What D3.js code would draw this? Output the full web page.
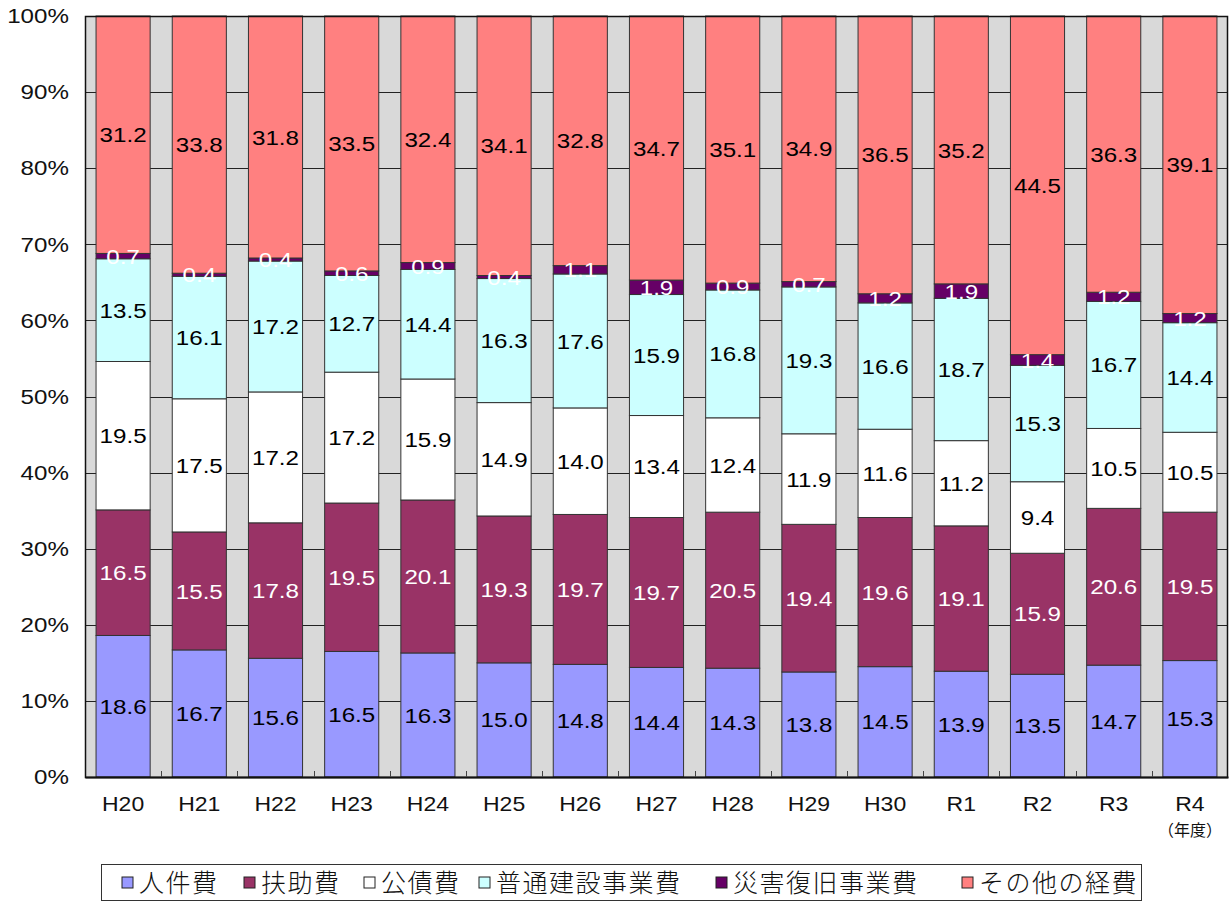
<!DOCTYPE html>
<html><head><meta charset="utf-8">
<script src="https://cdn.jsdelivr.net/npm/d3@7"></script>
<style>
body{margin:0;background:#fff;}
svg{display:block;}
text{font-family:"Liberation Sans","Noto Sans CJK JP",sans-serif;}
</style></head><body>
<svg id="chart" width="1229" height="903"></svg>
<script>
const years = ["H20","H21","H22","H23","H24","H25","H26","H27","H28","H29","H30","R1","R2","R3","R4"];
const seriesNames = ["人件費","扶助費","公債費","普通建設事業費","災害復旧事業費","その他の経費"];
const jinkenhi   = [18.6,16.7,15.6,16.5,16.3,15.0,14.8,14.4,14.3,13.8,14.5,13.9,13.5,14.7,15.3];
const fujohi     = [16.5,15.5,17.8,19.5,20.1,19.3,19.7,19.7,20.5,19.4,19.6,19.1,15.9,20.6,19.5];
const kousaihi   = [19.5,17.5,17.2,17.2,15.9,14.9,14.0,13.4,12.4,11.9,11.6,11.2,9.4,10.5,10.5];
const futsuu     = [13.5,16.1,17.2,12.7,14.4,16.3,17.6,15.9,16.8,19.3,16.6,18.7,15.3,16.7,14.4];
const saigai     = [0.7,0.4,0.4,0.6,0.9,0.4,1.1,1.9,0.9,0.7,1.2,1.9,1.4,1.2,1.2];
const sonota     = [31.2,33.8,31.8,33.5,32.4,34.1,32.8,34.7,35.1,34.9,36.5,35.2,44.5,36.3,39.1];
const yTicks = [0,10,20,30,40,50,60,70,80,90,100];

const colors = ["#9999FF","#993366","#FFFFFF","#CCFFFF","#660066","#FF8080"];
const labelColors = ["#000","#fff","#000","#000","#fff","#000"];
const allSeries = [jinkenhi,fujohi,kousaihi,futsuu,saigai,sonota];

const table = years.map((y,i)=>{const o={year:y}; seriesNames.forEach((s,k)=>o[s]=allSeries[k][i]); return o;});
const stack = d3.stack().keys(seriesNames)(table);

const svg = d3.select("#chart");
const L=85,R=1228,T=16,B=777;
const SX = 1.15;
const x = d3.scaleBand().domain(years).range([L,R]).paddingInner(0.29).paddingOuter(0.145);
const y = d3.scaleLinear().domain([0,100]).range([B,T]);

svg.append("rect").attr("x",L).attr("y",T).attr("width",R-L).attr("height",B-T).attr("fill","#D9D9D9");

// gridlines
svg.append("g").selectAll("line").data(yTicks.filter(t=>t>0&&t<100)).join("line")
  .attr("x1",L).attr("x2",R).attr("y1",d=>Math.round(y(d))+0.5).attr("y2",d=>Math.round(y(d))+0.5)
  .attr("stroke","#222").attr("stroke-width",1);

// bars
const g = svg.append("g");
stack.forEach((layer,k)=>{
  g.append("g").selectAll("rect").data(layer).join("rect")
    .attr("x",d=>x(d.data.year)).attr("width",x.bandwidth())
    .attr("y",d=>y(d[1])).attr("height",d=>y(d[0])-y(d[1]))
    .attr("fill",colors[k]).attr("stroke","#333").attr("stroke-width",1);
});

// labels
stack.forEach((layer,k)=>{
  g.append("g").selectAll("text").data(layer).join("text")
    .attr("transform",d=>`translate(${x(d.data.year)+x.bandwidth()/2},${y((d[0]+d[1])/2)}) scale(${SX},1)`)
    .attr("dy","0.36em")
    .attr("text-anchor","middle")
    .attr("font-size",21)
    .attr("fill",labelColors[k])
    .text(d=>(d[1]-d[0]).toFixed(1));
});

// frame
svg.append("rect").attr("x",L+0.5).attr("y",T+0.5).attr("width",R-L-1).attr("height",B-T).attr("fill","none").attr("stroke","#111").attr("stroke-width",1.5);

// y axis
const yAxis = d3.axisLeft(y).tickValues(yTicks).tickFormat(d=>d+"%").tickSize(0).tickPadding(14);
const ya = svg.append("g").attr("transform",`translate(${L},0)`).call(yAxis);
ya.select(".domain").remove();
ya.selectAll("text").attr("font-size",21).attr("fill","#111").attr("transform",`scale(${SX},1)`);

// x axis
const xa = svg.append("g").attr("transform",`translate(0,${B})`).call(d3.axisBottom(x).tickSize(0).tickPadding(20));
xa.select(".domain").attr("stroke","#111").attr("stroke-width",2);
xa.selectAll("text").attr("font-size",20).attr("fill","#111").attr("transform",`scale(${SX},1)`);
// category separator ticks
const step = x.step();
svg.append("g").selectAll("line").data(years.slice(1)).join("line")
  .attr("x1",d=>Math.round(x(d)-(step-x.bandwidth())/2)+0.5).attr("x2",d=>Math.round(x(d)-(step-x.bandwidth())/2)+0.5)
  .attr("y1",B).attr("y2",B-6).attr("stroke","#444");
svg.append("text").attr("x",x("R4")+x.bandwidth()/2).attr("y",836).attr("text-anchor","middle")
  .attr("font-size",16).attr("fill","#111").attr("font-family","'Noto Sans CJK JP',sans-serif").text("（年度）");

// legend
const lg = svg.append("g");
lg.append("rect").attr("x",101.5).attr("y",864.5).attr("width",1040).attr("height",36).attr("fill","#fff").attr("stroke","#333");
const legendX = [122,244,364,479,716,962];
seriesNames.forEach((s,k)=>{
  const gx = legendX[k];
  lg.append("rect").attr("x",gx).attr("y",877).attr("width",11).attr("height",11).attr("fill",colors[k]).attr("stroke","#222");
  lg.append("text").attr("x",gx+17).attr("y",883).attr("dy","0.36em").attr("font-size",25).attr("letter-spacing","1.5px")
    .attr("font-family","'Noto Sans CJK JP',sans-serif").attr("font-weight",300).attr("fill","#111").text(s);
});
</script></body></html>
